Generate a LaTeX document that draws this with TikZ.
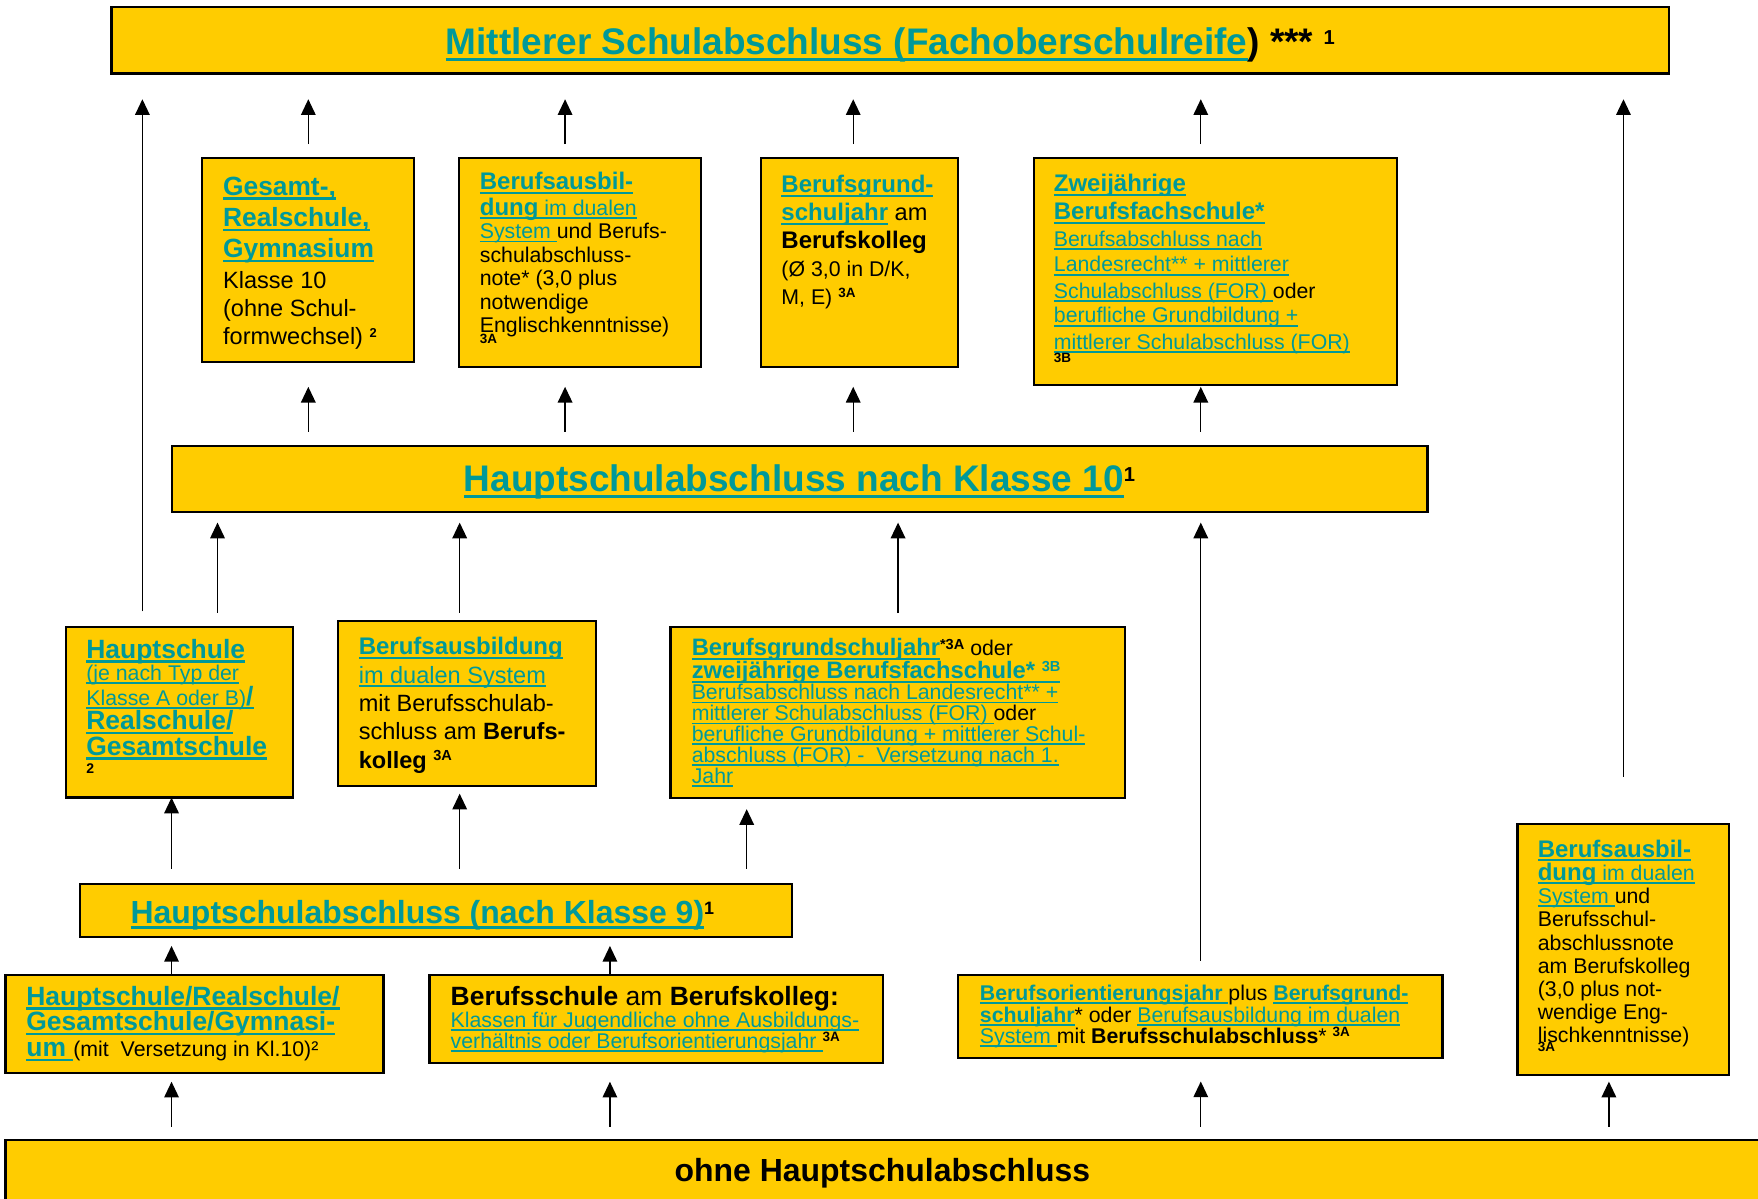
\documentclass[tikz,border=0pt]{standalone}
\usepackage{fontspec}
\setmainfont{Liberation Sans}
\usetikzlibrary{arrows.meta}
\definecolor{gold}{RGB}{255,204,0}
\definecolor{tealc}{RGB}{0,153,153}
\newcommand\ulk[1]{\leavevmode{\color{tealc}\setbox0=\hbox{#1}\rlap{\rule[-0.17em]{\wd0}{0.085em}}\box0}}
\newcommand\supx[3]{\raisebox{#2pt}{\fontsize{#1}{#1}\selectfont\bfseries #3}}
\newcommand\fsz[2]{\fontsize{#1}{#2}\selectfont}
\newcommand\tb[3]{\parbox[t]{560pt}{\raggedright\lineskiplimit=-100pt\lineskip=0pt\fsz{#1}{#2}\leavevmode#3}}
\tikzset{
  box/.style={draw=black, fill=gold, line width=2pt, inner sep=0pt, outer sep=0pt, anchor=north west},
  txt/.style={anchor=base west, inner sep=0pt, outer sep=0pt},
  arr/.style={line width=1.2pt, -{Triangle[length=14pt,width=13pt]}}
}
\begin{document}
\begin{tikzpicture}[x=1pt,y=-1pt]
\useasboundingbox (0,0) rectangle (1568,1069);
% boxes
\node[box, minimum width=1389pt, minimum height=59pt] (Top) at (99.5,6.5) {};
\node[box, minimum width=1120pt, minimum height=59pt] (Mid) at (153.3,397.5) {};
\node[box, minimum width=189.5pt, minimum height=182pt] (A) at (180,141) {};
\node[box, minimum width=216pt, minimum height=186pt] (B) at (409.5,141) {};
\node[box, minimum width=176pt, minimum height=186pt] (C) at (678.7,141) {};
\node[box, minimum width=324pt, minimum height=202.5pt] (D) at (922.2,141) {};
\node[box, minimum width=202.5pt, minimum height=152.2pt] (E) at (59,559.2) {};
\node[box, minimum width=230pt, minimum height=147pt] (F) at (301.4,553.9) {};
\node[box, minimum width=405.5pt, minimum height=152pt] (G) at (598,559.5) {};
\node[box, minimum width=635pt, minimum height=47.5pt] (H) at (71.6,788.5) {};
\node[box, minimum width=337pt, minimum height=87.5pt] (I) at (5,869.6) {};
\node[box, minimum width=404.5pt, minimum height=78.5pt] (J) at (383,869.6) {};
\node[box, minimum width=432pt, minimum height=74pt] (K) at (854.6,869.6) {};
\node[box, minimum width=188.5pt, minimum height=224pt] (L) at (1353.5,735) {};
\node[box, minimum width=1600pt, minimum height=80pt] (Bot) at (5,1017) {};
% titles
\node[txt, anchor=base] (toptx) at (794,49) {\fsz{33}{36}\bfseries\ulk{Mittlerer Schulabschluss (Fachoberschulreife}) *** \supx{18}{9}{1}};
\node[txt, anchor=base] (midtx) at (713,438.5) {\fsz{33}{36}\bfseries\ulk{Hauptschulabschluss nach Klasse 10}\supx{18}{9}{1}};
\node[txt] (Htx) at (116.5,823.5) {\fsz{28.5}{31}\bfseries\ulk{Hauptschulabschluss (nach Klasse 9)}\supx{16}{8}{1}};
\node[txt, anchor=base] (bottx) at (787,1054) {\fsz{28.5}{31}\bfseries ohne Hauptschulabschluss};
% box texts
\node[txt] (Atx) at (199,174) {\tb{21}{25}{%
{\fsz{23.5}{25}\bfseries\ulk{Gesamt-,}}\\[3pt]
{\fsz{23.5}{25}\bfseries\ulk{Realschule,}}\\[3pt]
{\fsz{23.5}{25}\bfseries\ulk{Gymnasium}}\\[2pt]
Klasse 10\\
(ohne Schul-\\
formwechsel) \supx{11.5}{6}{2}}};
\node[txt] (Btx) at (428,169) {\tb{19}{21}{%
{\fsz{21.4}{21}\bfseries\ulk{Berufsausbil-}}\\[2pt]
\ulk{{\fsz{21.4}{21}\bfseries dung} im dualen}\\
\ulk{System\ }und Berufs-\\
schulabschluss-\\
note* (3,0 plus\\
notwendige\\
Englischkenntnisse)\\[-12pt]
{\fsz{12}{12}\bfseries 3A}}};
\node[txt] (Ctx) at (697,172) {\tb{19}{25}{%
{\fsz{21.4}{25}\bfseries\ulk{Berufsgrund-}}\\
{\fsz{21.4}{25}\bfseries\ulk{schuljahr}}{\fsz{21}{25} am}\\
{\fsz{21.4}{25}\bfseries Berufskolleg}\\
(Ø 3,0 in D/K,\\
M, E) \supx{12}{6.5}{3A}}};
\node[txt] (Dtx) at (940,171) {\tb{19}{23}{%
{\fsz{21.4}{23}\bfseries\ulk{Zweijährige}}\\[2pt]
{\fsz{21.4}{23}\bfseries\ulk{Berufsfachschule*}}\\[1pt]
\ulk{Berufsabschluss nach}\\[-0.5pt]
\ulk{Landesrecht** + mittlerer}\\[0.5pt]
\ulk{Schulabschluss (FOR)\ }oder\\[-1pt]
\ulk{berufliche Grundbildung +}\\[0.5pt]
\ulk{mittlerer Schulabschluss (FOR)}\\[-11.5pt]
{\fsz{12}{12}\bfseries 3B}}};
\node[txt] (Etx) at (77,587) {\tb{19}{22}{%
{\fsz{23.6}{22}\bfseries\ulk{Hauptschule}}\\[-2pt]
\ulk{(je nach Typ der}\\
\ulk{Klasse A oder B){\fsz{23.6}{22}\bfseries/}}\\
{\fsz{23.6}{22}\bfseries\ulk{Realschule/}}\\[0.4pt]
{\fsz{23.6}{22}\bfseries\ulk{Gesamtschule}}\\[-5.4pt]
{\fsz{12.5}{12.5}\bfseries 2}}};
\node[txt] (Ftx) at (320,584) {\tb{21}{25.3}{%
{\fsz{21.4}{25}\bfseries\ulk{Berufsausbildung}}\\
\ulk{im dualen System}\\
mit Berufsschulab-\\
schluss am {\bfseries Berufs-}\\
{\bfseries kolleg} \supx{13}{7}{3A}}};
\node[txt] (Gtx) at (617,585) {\tb{19}{18.6}{%
{\fsz{21.2}{18.6}\bfseries\ulk{Berufsgrundschuljahr}}\supx{13}{5.5}{*3A} oder\\[2pt]
{\fsz{21.2}{18.6}\bfseries\ulk{zweijährige Berufsfachschule* \supx{13}{6.4}{3B}}}\\
\ulk{Berufsabschluss nach Landesrecht** +}\\
\ulk{mittlerer Schulabschluss (FOR)\ }oder\\
\ulk{berufliche Grundbildung + mittlerer Schul-}\\
\ulk{abschluss (FOR) -\ \ Versetzung nach 1.}\\
\ulk{Jahr}}};
\node[txt] (Itx) at (23.5,896.4) {\tb{19}{23}{%
{\fsz{23.6}{23}\bfseries\ulk{Hauptschule/Realschule/}}\\
{\fsz{23.6}{23}\bfseries\ulk{Gesamtschule/Gymnasi-}}\\
{\fsz{23.6}{23}\bfseries\ulk{um\ }}(mit\ \ Versetzung in Kl.10)²}};
\node[txt] (Jtx) at (402,896.4) {\tb{19}{19.3}{%
{\fsz{23.6}{19.3}\bfseries Berufsschule {\mdseries am} Berufskolleg:}\\[0.3pt]
\ulk{Klassen für Jugendliche ohne Ausbildungs-}\\
\ulk{verhältnis oder Berufsorientierungsjahr\ }\supx{12}{6}{3A}}};
\node[txt] (Ktx) at (874,892.5) {\tb{19}{19}{%
\ulk{\bfseries Berufsorientierungsjahr\ }plus \ulk{\bfseries Berufsgrund-}\\[0.5pt]
\ulk{\bfseries schuljahr}* oder \ulk{Berufsausbildung im dualen}\\[-0.5pt]
\ulk{System\ }mit {\bfseries Berufsschulabschluss}* \supx{12}{6}{3A}}};
\node[txt] (Ltx) at (1371.6,764.6) {\tb{19}{20.7}{%
{\fsz{21.4}{20.7}\bfseries\ulk{Berufsausbil-}}\\
\ulk{{\fsz{21.4}{20.7}\bfseries dung} im dualen}\\
\ulk{System\ }und\\
Berufsschul-\\
abschlussnote\\
am Berufskolleg\\
(3,0 plus not-\\
wendige Eng-\\
lischkenntnisse)\\[-12.7pt]
{\fsz{12}{12}\bfseries 3A}}};
% x positions of connectors
\coordinate (x127) at (127,0);
\coordinate (x153) at (153,0);
\coordinate (x194) at (194,0);
\coordinate (x275) at (275,0);
\coordinate (x410) at (410,0);
\coordinate (x504) at (504,0);
\coordinate (x544) at (544,0);
\coordinate (x666) at (666,0);
\coordinate (x761) at (761,0);
\coordinate (x801) at (801,0);
\coordinate (x1071) at (1071,0);
\coordinate (x1435) at (1435,0);
\coordinate (x1448) at (1448,0);
% connectors into top box
\draw[arr, shorten <=14pt, shorten >=23pt] (E.north -| x127) -- (Top.south -| x127);
\draw[arr, shorten <=12.5pt, shorten >=23pt] (A.north -| x275) -- (Top.south -| x275);
\draw[arr, shorten <=12.5pt, shorten >=23pt] (B.north -| x504) -- (Top.south -| x504);
\draw[arr, shorten <=12.5pt, shorten >=23pt] (C.north -| x761) -- (Top.south -| x761);
\draw[arr, shorten <=12.5pt, shorten >=23pt] (D.north -| x1071) -- (Top.south -| x1071);
\draw[arr, shorten <=42pt, shorten >=23pt] (L.north -| x1448) -- (Top.south -| x1448);
% from middle box to row 2
\draw[arr, shorten <=12.5pt, shorten >=22pt] (Mid.north -| x275) -- (A.south -| x275);
\draw[arr, shorten <=12.5pt, shorten >=18pt] (Mid.north -| x504) -- (B.south -| x504);
\draw[arr, shorten <=12.5pt, shorten >=18pt] (Mid.north -| x761) -- (C.south -| x761);
\draw[arr, shorten <=12.5pt, shorten >=1.5pt] (Mid.north -| x1071) -- (D.south -| x1071);
% into middle box
\draw[arr, shorten <=12.7pt, shorten >=9.6pt] (E.north -| x194) -- (Mid.south -| x194);
\draw[arr, shorten <=7.4pt, shorten >=9.6pt] (F.north -| x410) -- (Mid.south -| x410);
\draw[arr, shorten <=12.7pt, shorten >=9.6pt] (G.north -| x801) -- (Mid.south -| x801);
\draw[arr, shorten <=12.8pt, shorten >=9.6pt] (K.north -| x1071) -- (Mid.south -| x1071);
% from H to row 3
\draw[arr, shorten <=13.5pt] (H.north -| x153) -- (E.south -| x153);
\draw[arr, shorten <=13.5pt, shorten >=7pt] (H.north -| x410) -- (F.south -| x410);
\draw[arr, shorten <=13.5pt, shorten >=10.2pt] (H.north -| x666) -- (G.south -| x666);
% row 4 to H
\draw[arr, shorten >=7.7pt] (I.north -| x153) -- (H.south -| x153);
\draw[arr, shorten >=7.7pt] (J.north -| x544) -- (H.south -| x544);
% bottom box to row 4
\draw[arr, shorten <=12pt, shorten >=7.7pt] (Bot.north -| x153) -- (I.south -| x153);
\draw[arr, shorten <=12pt, shorten >=16.7pt] (Bot.north -| x544) -- (J.south -| x544);
\draw[arr, shorten <=12pt, shorten >=21pt] (Bot.north -| x1071) -- (K.south -| x1071);
\draw[arr, shorten <=12pt, shorten >=5.7pt] (Bot.north -| x1435) -- (L.south -| x1435);
\end{tikzpicture}
\end{document}
